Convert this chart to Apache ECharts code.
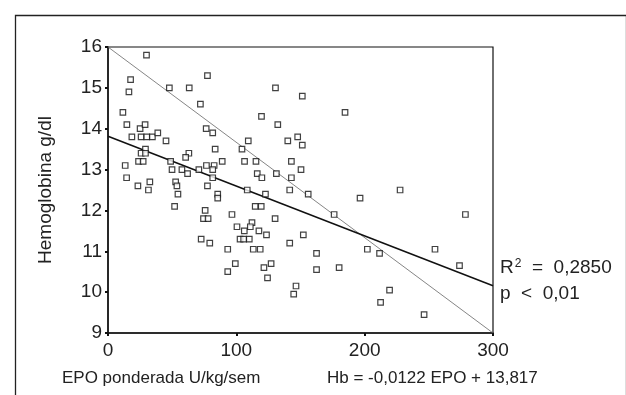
<!DOCTYPE html>
<html>
<head>
<meta charset="utf-8">
<script src="https://cdn.jsdelivr.net/npm/echarts@6/dist/echarts.min.js"></script>
<style>
  html, body { margin: 0; padding: 0; background: #fff; }
  #chart { width: 626px; height: 395px; }
</style>
</head>
<body>
<div id="chart"></div>
<script>
// EPO ponderada (U/kg/sem) and Hb (g/dl)
const epo = [
  30, 77.5, 17.6, 16.3, 47.8, 63.3, 72, 11.6, 14.7, 25,
  28.9, 76.5, 81.6, 18.6, 25.8, 30.2, 34.6, 38.8, 45.2, 83.5,
  29.2, 25.8, 29.2, 63, 60.5, 13.4, 23.8, 27.4, 48.8, 14.5,
  49.9, 57.6, 62, 70.8, 76.7, 82.7, 81.6, 89, 81.6, 23.3,
  32.6, 31.5, 52.7, 53.7, 54.5, 77.5, 85.5, 85.5, 51.9, 75.7,
  74.4, 78, 72.6, 79.3, 93.3, 93.3, 130.5, 151.4, 184.7, 119.6,
  132.3, 109.3, 140.1, 147.8, 151.4, 104.4, 106.4, 115.3, 142.9, 116.3,
  119.9, 131.2, 142.9, 150.4, 108.5, 122.7, 141.6, 156, 176.2, 96.6,
  114.7, 119.4, 130.2, 112.2, 110.9, 100.5, 106.2, 117.6, 123.5, 102.9,
  105.7, 110.1, 152.2, 141.6, 113.2, 118.6, 162.5, 99.2, 127.1, 121.5,
  162.5, 180.1, 124.3, 146.5, 144.7, 227.6, 196.4, 278.5, 202.1, 211.6,
  254.8, 273.9, 219.4, 212.4, 246.3
];
const hb = [
  15.8, 15.3, 15.2, 14.9, 15.0, 15.0, 14.6, 14.4, 14.1, 14.0,
  14.1, 14.0, 13.9, 13.8, 13.8, 13.8, 13.8, 13.9, 13.7, 13.5,
  13.5, 13.4, 13.4, 13.4, 13.3, 13.1, 13.2, 13.2, 13.2, 12.8,
  13.0, 13.0, 12.9, 13.0, 13.1, 13.1, 13.0, 13.2, 12.8, 12.6,
  12.7, 12.5, 12.7, 12.6, 12.4, 12.6, 12.4, 12.3, 12.1, 12.0,
  11.8, 11.8, 11.3, 11.2, 11.05, 10.5, 15.0, 14.8, 14.4, 14.3,
  14.1, 13.7, 13.7, 13.8, 13.6, 13.5, 13.2, 13.2, 13.2, 12.9,
  12.8, 12.9, 12.8, 13.0, 12.5, 12.4, 12.5, 12.4, 11.9, 11.9,
  12.1, 12.1, 11.8, 11.7, 11.6, 11.6, 11.5, 11.5, 11.4, 11.3,
  11.3, 11.3, 11.4, 11.2, 11.05, 11.05, 10.95, 10.7, 10.7, 10.6,
  10.55, 10.6, 10.35, 10.15, 9.95, 12.5, 12.3, 11.9, 11.05, 10.95,
  11.05, 10.65, 10.05, 9.75, 9.45
];

// regression Hb = -0,0122 EPO + 13,817
const slope = -0.0122;
const intercept = 13.817;
const xRange = [0, 300];
const yRange = [9, 16];

const fitLine = xRange.map(x => [x, intercept + slope * x]);
const diagLine = [[xRange[0], yRange[1]], [xRange[1], yRange[0]]];
const points = epo.map((x, i) => [x, hb[i]]);

const font = '"Liberation Sans", Arial, sans-serif';
const chart = echarts.init(document.getElementById('chart'), null, { renderer: 'canvas' });

chart.setOption({
  backgroundColor: '#fff',
  animation: false,
  grid: {
    left: 108, right: 133, top: 47, bottom: 62,
    show: true, borderColor: '#111', borderWidth: 1.2, backgroundColor: 'transparent'
  },
  xAxis: {
    type: 'value', min: 0, max: 300, interval: 100,
    axisLine: { show: true, lineStyle: { color: '#111', width: 1.5 } },
    axisTick: { show: true, length: 3, lineStyle: { color: '#111', width: 2 } },
    axisLabel: { color: '#222', fontSize: 19, fontFamily: font, margin: 8 },
    splitLine: { show: false }
  },
  yAxis: {
    type: 'value', min: 9, max: 16, interval: 1,
    name: 'Hemoglobina g/dl', nameLocation: 'middle', nameGap: 53,
    nameTextStyle: { color: '#222', fontSize: 19, fontFamily: font },
    axisLine: { show: true, lineStyle: { color: '#111', width: 1.5 } },
    axisTick: { show: true, length: 3, lineStyle: { color: '#111', width: 2 } },
    axisLabel: { color: '#222', fontSize: 19, fontFamily: font, margin: 6 },
    splitLine: { show: false }
  },
  series: [
    {
      type: 'line', data: diagLine, symbol: 'none', silent: true,
      lineStyle: { color: '#666', width: 0.8 }
    },
    {
      type: 'line', data: fitLine, symbol: 'none', silent: true,
      lineStyle: { color: '#111', width: 1.5 }
    },
    {
      type: 'scatter', data: points, symbol: 'rect', symbolSize: 5.5,
      itemStyle: { color: '#fff', borderColor: '#111', borderWidth: 1.2 },
      z: 5
    }
  ],
  graphic: [
    {
      type: 'rect', left: 13, top: 13, silent: true,
      shape: { width: 611, height: 400 },
      style: { fill: 'none', stroke: '#222', lineWidth: 1.3 }
    },
    {
      type: 'text', left: 500, top: 258,
      style: {
        text: '{a|R}{s|2}{a|  =  0,2850}',
        rich: {
          a: { fontSize: 19, fontFamily: font, fill: '#222' },
          s: { fontSize: 12, fontFamily: font, fill: '#222', verticalAlign: 'top', padding: [0, 0, 8, 1] }
        }
      }
    },
    {
      type: 'text', left: 500, top: 284,
      style: { text: 'p  <  0,01', fontSize: 19, fontFamily: font, fill: '#222' }
    },
    {
      type: 'text', left: 62, top: 370,
      style: { text: 'EPO ponderada U/kg/sem', fontSize: 17, fontFamily: font, fill: '#222' }
    },
    {
      type: 'text', left: 327, top: 370,
      style: { text: 'Hb = -0,0122 EPO + 13,817', fontSize: 17, fontFamily: font, fill: '#222' }
    }
  ]
});
</script>
</body>
</html>
